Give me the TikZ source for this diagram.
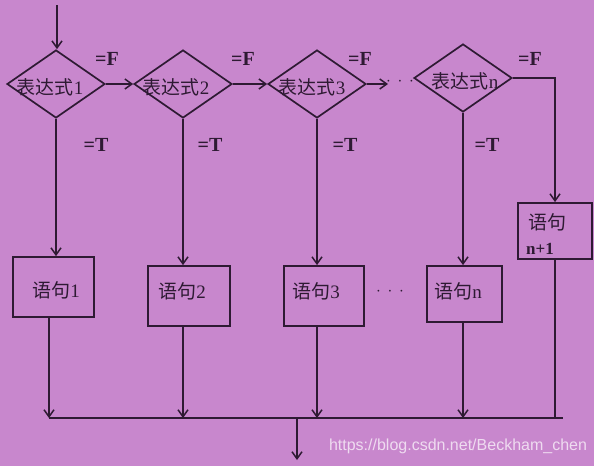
\documentclass[tikz,border=0pt]{standalone}
\usepackage{fontspec}
\setmainfont{Liberation Serif}
\newfontfamily\cjk{Noto Sans CJK SC}
\newfontfamily\wmfont{Liberation Sans}
\usetikzlibrary{shapes.geometric,arrows.meta}
\definecolor{bg}{HTML}{C887CD}
\definecolor{ink}{HTML}{2E1A33}
\begin{document}
\begin{tikzpicture}[x=1pt,y=-1pt,
  line/.style={draw=ink, line width=1.8pt},
  arr/.style={line, -{Straight Barb[length=7pt,width=10pt,line width=1.5pt]}},
  dia/.style={diamond, draw=ink, line width=1.7pt, minimum width=98pt, minimum height=68pt, inner sep=0pt},
  box/.style={rectangle, draw=ink, line width=1.8pt, inner sep=0pt},
  txt/.style={font=\fontsize{19}{20}\selectfont, text=ink, inner sep=0pt},
  lab/.style={font=\bfseries\fontsize{20}{22}\selectfont, text=ink, inner sep=0pt},
  wm/.style={font=\wmfont\fontsize{16}{18}\selectfont, text=white, text opacity=0.7, inner sep=0pt}]
\fill[bg] (0,0) rectangle (594,466);
\useasboundingbox (0,0) rectangle (594,466);
% diamonds
\node[dia] (d1) at (56,84) {};
\node[dia] (d2) at (183,84) {};
\node[dia] (d3) at (317,84) {};
\node[dia] (dn) at (463,78) {};
\node[txt] (e1) at (50,87) {{\cjk 表达式}1};
\node[txt] (e2) at (176,87) {{\cjk 表达式}2};
\node[txt] (e3) at (312,87) {{\cjk 表达式}3};
\node[txt] (en) at (465,81) {{\cjk 表达式}n};
% boxes
\node[box, minimum width=81pt, minimum height=60pt] (b1) at (53.5,287) {};
\node[box, minimum width=82pt, minimum height=60pt] (b2) at (189,296) {};
\node[box, minimum width=80pt, minimum height=60pt] (b3) at (324,296) {};
\node[box, minimum width=75pt, minimum height=56pt] (bn) at (464.5,294) {};
\node[box, minimum width=74pt, minimum height=56pt] (bn1) at (555,231) {};
\node[txt] (t1) at (56,290) {{\cjk 语句}1};
\node[txt] (t2) at (182,291) {{\cjk 语句}2};
\node[txt] (t3) at (316,291) {{\cjk 语句}3};
\node[txt] (tn) at (458,291) {{\cjk 语句}n};
\node[txt] (tn1a) at (547,222) {\cjk 语句};
\node[txt, font=\bfseries\fontsize{17}{18}\selectfont, anchor=west] (tn1b) at (526,249) {n+1};
% labels
\node[lab] (f1) at (107,59) {=F};
\node[lab] (f2) at (243,59) {=F};
\node[lab] (f3) at (360,59) {=F};
\node[lab] (f4) at (530,59) {=F};
\node[lab] (g1) at (96,145) {=T};
\node[lab] (g2) at (210,145) {=T};
\node[lab] (g3) at (345,145) {=T};
\node[lab] (g4) at (487,145) {=T};
\node[txt] (dots1) at (400,82) {$\cdot\,\cdot\,\cdot$};
\node[txt] (dots2) at (390,292) {$\cdot\,\cdot\,\cdot$};
% coordinates
\coordinate (in) at (57,5);
\coordinate (d3x) at (388,82);
\coordinate (j1) at (49,418);
\coordinate (jend) at (563,418);
\coordinate (out) at (297,460);
% connectors
\draw[arr] (in) -- (in |- d1.north);
\draw[arr] (d1.east) -- (d2.west);
\draw[arr] (d2.east) -- (d3.west);
\draw[arr] (d3.east) -- (d3.east -| d3x);
\draw[arr] (dn.east) -| (bn1.north);
\draw[arr] (d1.south) -- (d1.south |- b1.north);
\draw[arr] (d2.south) -- (d2.south |- b2.north);
\draw[arr] (d3.south) -- (d3.south |- b3.north);
\draw[arr] (dn.south) -- (dn.south |- bn.north);
\draw[arr] (j1 |- b1.south) -- (j1);
\draw[arr] (d2.south |- b2.south) -- (d2.south |- j1);
\draw[arr] (d3.south |- b3.south) -- (d3.south |- j1);
\draw[arr] (dn.south |- bn.south) -- (dn.south |- j1);
\draw[line] (bn1.south) -- (bn1.south |- j1);
\draw[line] (j1) -- (jend);
\draw[arr] (out |- j1) -- (out);
% watermark
\node[wm] (wmk) at (458,446) {https://blog.csdn.net/Beckham\_chen};
\end{tikzpicture}
\end{document}
